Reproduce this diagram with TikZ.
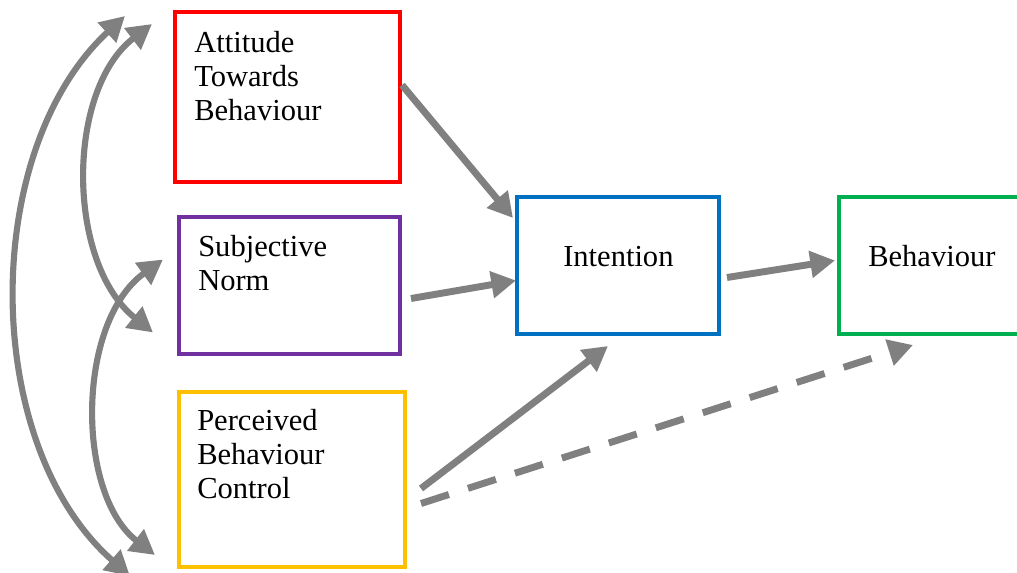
\documentclass[tikz,border=0pt]{standalone}
\usepackage{fontspec}
\setmainfont{Liberation Serif}
\usetikzlibrary{arrows.meta,calc}
\definecolor{attred}{HTML}{FF0000}
\definecolor{snpurple}{HTML}{7030A0}
\definecolor{pbcyellow}{HTML}{FFC000}
\definecolor{intblue}{HTML}{0070C0}
\definecolor{behgreen}{HTML}{00B050}
\definecolor{arrowgray}{HTML}{808080}
\begin{document}
\begin{tikzpicture}[x=0.75pt,y=-0.75pt,
  box/.style={draw,line width=3pt,inner sep=0pt,anchor=north west},
  lbl/.style={inner sep=0pt,align=left,font=\fontsize{22.9}{25.5}\selectfont},
  tip/.tip={Triangle[length=18.5pt,width=19.5pt]},
  conn/.style={draw=arrowgray,line width=5.2pt,-tip},
  dconn/.style={conn,dash pattern=on 22pt off 15pt},
  curv/.style={draw=arrowgray,line width=4.6pt,tip-tip}]
\useasboundingbox (0,0) rectangle (1017,573);
% boxes
\node[box,draw=attred,minimum width=168.75pt,minimum height=127.5pt] (attitude) at (173,10) {};
\node[box,draw=snpurple,minimum width=165.75pt,minimum height=102.75pt] (sn) at (177,215) {};
\node[box,draw=pbcyellow,minimum width=169.5pt,minimum height=131.25pt] (pbc) at (177,390) {};
\node[box,draw=intblue,minimum width=151.5pt,minimum height=102.75pt] (intention) at (515,195) {};
\node[box,draw=behgreen,minimum width=144.75pt,minimum height=102.75pt] (behaviour) at (837,195) {};
% labels
\node[lbl,anchor=north west] (atttext) at (194,31) {Attitude\\Towards\\Behaviour};
\node[lbl,anchor=north west] (sntext) at (198,235) {Subjective\\Norm};
\node[lbl,anchor=north west] (pbctext) at (197,409) {Perceived\\Behaviour\\Control};
\node[lbl,anchor=base west] (inttext) at (563,267) {Intention};
\node[lbl,anchor=base west] (behtext) at (868,267) {Behaviour};
% straight connectors
\draw[conn] ($(attitude.east)+(0,-12)$) -- ($(intention.north west)+(-2,23)$);
\draw[conn] ($(sn.east)+(9,13)$) -- ($(intention.west)+(1,15)$);
\draw[conn] ($(pbc.east)+(14,9)$) -- ($(intention.south west)+(93,10)$);
\draw[conn] ($(intention.east)+(6,12)$) -- ($(behaviour.west)+(-2,-5)$);
\draw[dconn] ($(pbc.east)+(14,24)$) -- ($(behaviour.south west)+(76,9)$);
% curved connectors
\draw[curv] ($(attitude.north west)+(-48,6)$) .. controls +(-145,134) and +(-150,-132) .. ($(pbc.south west)+(-47,7)$);
\draw[curv] ($(attitude.north west)+(-21,14)$) .. controls +(-86,66) and +(-87,-70) .. ($(sn.west)+(-24,47)$);
\draw[curv] ($(sn.west)+(-14,-26)$) .. controls +(-87,63) and +(-79,-61) .. ($(pbc.south west)+(-22,-14)$);
\end{tikzpicture}
\end{document}
